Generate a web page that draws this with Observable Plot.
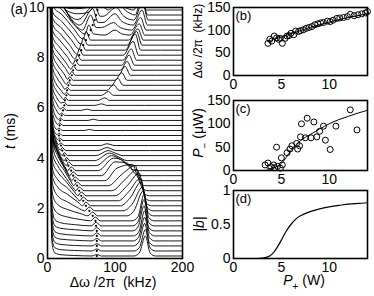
<!DOCTYPE html>
<html><head><meta charset="utf-8">
<script src="https://cdn.jsdelivr.net/npm/d3@7"></script>
<script src="https://cdn.jsdelivr.net/npm/@observablehq/plot@0.6"></script>
<style>
body{margin:0;background:#fff;}
#chart{position:relative;width:374px;height:296px;overflow:hidden;font-family:"Liberation Sans",Arial,sans-serif;color:#000;background:#fff;}
.panel{position:absolute;}
.lbl{position:absolute;font-size:14px;white-space:nowrap;line-height:1;}
.rot{transform:translate(-50%,-50%) rotate(-90deg);}
.ctr{transform:translate(-50%,-50%);}
.sb{font-size:10px;position:relative;top:5px;}
</style></head><body><div id="chart"></div>
<script>
// ---------- panel (a): waterfall spectra ----------
const traceT = [0.1,0.3,0.5,0.7,0.9,1.1,1.3,1.5,1.7,1.9,2.1,2.3,2.5,2.7,2.9,3.1,3.3,3.5,3.7,3.9,
  4.1,4.3,4.5,4.7,4.9,5.1,5.3,5.5,5.7,5.9,6.1,6.3,6.5,6.7,6.9,7.1,7.3,7.5,7.7,7.9,
  8.1,8.3,8.5,8.7,8.9,9.1,9.3,9.5,9.7,9.9];
// spectra: [frequency kHz, height above baseline in ms]
const spectra = [
 [[4,12],[6,0.8],[8,0.3],[11,0.12],[20,0.05],[40,0.02],[66,0],[73,0.06],[80,0],[128,0],[136,0.12],[145,0.8],[152,0.12],[160,0],[200,0]],
 [[4,12],[6,0.8],[8,0.3],[11,0.13],[20,0.05],[40,0.02],[66,0],[73,0.08],[80,0],[128,0],[136,0.13],[145,0.85],[152,0.12],[160,0],[200,0]],
 [[4,12],[6,0.9],[8,0.32],[11,0.14],[20,0.06],[40,0.02],[66,0],[73,0.09],[80,0],[127,0],[135,0.14],[144,0.9],[151,0.13],[159,0],[200,0]],
 [[4,12],[6,0.9],[8,0.35],[11,0.15],[20,0.07],[40,0.03],[66,0],[73,0.1],[80,0],[127,0],[135,0.15],[144,0.95],[151,0.13],[159,0],[200,0]],
 [[4,12],[6,1.0],[8,0.38],[11,0.17],[20,0.08],[40,0.03],[66,0],[73,0.12],[80,0],[127,0],[135,0.15],[144,1.0],[151,0.13],[159,0],[200,0]],
 [[4,12],[6,1.0],[8,0.42],[11,0.2],[20,0.1],[40,0.05],[66,0],[73,0.13],[80,0],[126,0],[134,0.15],[143,1.0],[150,0.13],[158,0],[200,0]],
 [[4,12],[6,1.1],[8,0.5],[11,0.25],[20,0.12],[40,0.05],[65,0],[72,0.15],[79,0],[126,0],[134,0.15],[143,1.05],[150,0.13],[158,0],[200,0]],
 [[4,12],[6,1.2],[8,0.6],[15,0.3],[30,0.15],[50,0.05],[64,0],[71,0.15],[78,0],[125,0],[134,0.16],[143,1.05],[150,0.13],[158,0],[200,0]],
 [[4,12],[6,1.4],[8,0.8],[15,0.45],[30,0.25],[50,0.08],[60,0],[67,0.15],[74,0],[118,0],[128,0.2],[142,1.0],[149,0.13],[157,0],[200,0]],
 [[4,12],[6,1.6],[8,1.0],[15,0.6],[30,0.35],[45,0.12],[55,0],[62,0.15],[70,0],[112,0],[125,0.25],[141,0.95],[148,0.12],[156,0],[200,0]],
 [[4,12],[6,1.8],[8,1.1],[15,0.75],[30,0.45],[45,0.15],[52,0],[57,0.15],[64,0],[108,0],[122,0.3],[139,0.95],[146,0.12],[154,0],[200,0]],
 [[4,12],[6,1.8],[8,1.2],[15,0.85],[30,0.5],[42,0.15],[48,0],[53,0.15],[60,0],[105,0],[120,0.35],[138,0.9],[145,0.1],[153,0],[200,0]],
 [[4,12],[6,2.0],[8,1.3],[15,0.95],[28,0.55],[40,0.15],[45,0],[50,0.15],[57,0],[100,0],[118,0.4],[136,0.9],[143,0.1],[151,0],[200,0]],
 [[4,12],[6,2.2],[8,1.4],[15,1.0],[25,0.6],[37,0.15],[42,0],[47,0.15],[54,0],[95,0],[115,0.45],[133,0.85],[140,0.1],[149,0],[200,0]],
 [[4,12],[6,2.3],[8,1.5],[15,1.0],[25,0.6],[35,0.15],[39,0],[44,0.15],[51,0],[90,0],[110,0.45],[130,0.8],[137,0.1],[146,0],[200,0]],
 [[4,12],[6,2.3],[8,1.5],[15,1.0],[25,0.5],[33,0.12],[36,0],[41,0.15],[48,0],[85,0],[103,0.5],[126,0.65],[135,0.08],[144,0],[200,0]],
 [[4,12],[6,2.3],[8,1.4],[15,0.9],[22,0.5],[30,0.12],[33,0],[38,0.15],[45,0],[80,0],[100,0.55],[118,0.5],[131,0.05],[140,0],[200,0]],
 [[4,12],[6,2.2],[8,1.3],[14,0.8],[20,0.45],[27,0.1],[30,0],[35,0.15],[42,0],[75,0],[98,0.5],[112,0.4],[127,0.03],[136,0],[200,0]],
 [[4,12],[6,2.0],[8,1.2],[13,0.7],[19,0.35],[25,0.08],[28,0],[31,0.15],[38,0],[72,0],[95,0.4],[108,0.25],[122,0],[200,0]],
 [[4,12],[6,1.8],[8,1.0],[12,0.6],[17,0.3],[22,0.06],[25,0],[28,0.12],[33,0],[70,0],[92,0.3],[105,0.15],[118,0],[200,0]],
 [[4,12],[6,1.6],[8,0.9],[12,0.5],[16,0.22],[20,0.04],[22,0],[25,0.12],[30,0],[72,0],[90,0.2],[100,0.1],[112,0],[200,0]],
 [[4,12],[6,1.4],[8,0.8],[12,0.4],[16,0.12],[19,0.02],[22,0.12],[27,0],[75,0],[88,0.12],[102,0],[200,0]],
 [[4,12],[6,1.2],[8,0.6],[12,0.25],[16,0.04],[20,0.1],[25,0],[78,0],[88,0.07],[100,0],[200,0]],
 [[4,12],[6,1.0],[8,0.5],[12,0.15],[15,0.04],[18,0.1],[23,0],[200,0]],
 [[4,12],[6,0.9],[8,0.4],[11,0.12],[14,0.04],[17,0.1],[22,0],[200,0]],
 [[4,12],[6,0.9],[8,0.4],[11,0.12],[14,0.04],[17,0.1],[22,0],[55,0],[62,0.04],[70,0],[200,0]],
 [[4,12],[6,0.9],[8,0.45],[12,0.14],[15,0.04],[18,0.1],[23,0],[200,0]],
 [[4,12],[6,1.0],[8,0.5],[12,0.18],[16,0.04],[19,0.1],[24,0],[60,0],[68,0.05],[76,0],[200,0]],
 [[4,12],[6,1.0],[8,0.55],[13,0.22],[18,0.04],[21,0.1],[26,0],[200,0]],
 [[4,12],[6,1.1],[8,0.6],[13,0.3],[19,0.06],[23,0.12],[28,0],[50,0],[58,0.05],[66,0],[200,0]],
 [[4,12],[6,1.1],[8,0.65],[13,0.35],[20,0.1],[25,0.12],[30,0],[70,0],[80,0.06],[88,0],[200,0]],
 [[4,12],[6,1.2],[8,0.7],[13,0.4],[20,0.15],[24,0.03],[26,0.12],[31,0],[75,0],[85,0.1],[92,0],[200,0]],
 [[4,12],[6,1.3],[8,0.8],[13,0.45],[20,0.2],[25,0.04],[28,0.12],[33,0],[80,0],[90,0.15],[98,0],[200,0]],
 [[4,12],[6,1.4],[8,0.85],[14,0.5],[21,0.22],[26,0.04],[29,0.12],[34,0],[88,0],[98,0.22],[106,0],[200,0]],
 [[4,12],[6,1.5],[8,0.9],[15,0.55],[22,0.25],[28,0.04],[31,0.14],[36,0],[95,0],[104,0.28],[112,0],[200,0]],
 [[4,12],[6,1.6],[8,1.0],[15,0.6],[24,0.28],[30,0.04],[33,0.15],[38,0],[100,0],[110,0.3],[118,0],[200,0]],
 [[4,12],[6,1.7],[8,1.0],[16,0.65],[26,0.3],[33,0.04],[36,0.16],[41,0],[105,0],[115,0.35],[123,0],[200,0]],
 [[4,12],[6,1.8],[8,1.05],[16,0.7],[27,0.32],[35,0.04],[38,0.18],[44,0],[108,0],[118,0.35],[126,0],[200,0]],
 [[4,12],[6,1.8],[8,1.1],[17,0.75],[29,0.35],[38,0.04],[41,0.2],[47,0],[110,0],[121,0.4],[129,0],[200,0]],
 [[4,12],[6,1.9],[8,1.15],[18,0.8],[31,0.38],[41,0.04],[44,0.22],[50,0],[112,0],[124,0.45],[132,0],[200,0]],
 [[4,12],[6,2.0],[8,1.2],[19,0.85],[33,0.4],[44,0.04],[47,0.25],[53,0],[112,0],[127,0.55],[135,0],[200,0]],
 [[4,12],[6,2.1],[8,1.25],[20,0.9],[35,0.42],[47,0.04],[50,0.28],[57,0],[115,0],[130,0.65],[138,0],[200,0]],
 [[4,12],[6,2.2],[8,1.3],[21,0.95],[37,0.45],[50,0.04],[53,0.3],[60,0],[118,0],[132,0.55],[140,0],[200,0]],
 [[4,12],[6,2.3],[8,1.35],[22,1.0],[39,0.45],[53,0.04],[57,0.35],[64,0],[120,0],[134,0.45],[142,0],[200,0]],
 [[4,12],[6,2.4],[8,1.4],[22,1.0],[40,0.4],[56,0.04],[61,0.4],[68,0.05],[85,0],[100,0.2],[110,0.05],[122,0],[136,0.45],[144,0],[200,0]],
 [[4,12],[6,2.4],[8,1.4],[22,1.0],[38,0.3],[52,0],[64,0.6],[72,0.1],[80,0.1],[98,0.3],[108,0.1],[125,0],[138,0.5],[146,0],[200,0]],
 [[4,12],[6,2.4],[10,1.3],[20,0.9],[35,0.25],[48,0],[67,0.65],[75,0.1],[82,0.1],[100,0.45],[110,0.15],[127,0],[140,0.6],[148,0],[200,0]],
 [[4,12],[6,2.4],[10,1.2],[20,0.7],[32,0.2],[45,0.02],[70,0.6],[78,0.15],[82,0.15],[102,0.5],[113,0.15],[128,0],[141,0.7],[149,0],[200,0]],
 [[4,12],[6,1.8],[10,0.8],[20,0.4],[30,0.15],[45,0.05],[60,0.1],[72,0.4],[78,0.3],[83,0.3],[90,0.2],[104,0.5],[115,0.2],[130,0],[140,0.8],[148,0],[200,0]],
 [[4,12],[6,1.4],[10,0.5],[20,0.15],[40,0.05],[60,0.1],[74,0.4],[80,0.2],[85,0.2],[95,0.1],[104,0.3],[115,0.1],[128,0],[137,0.6],[146,0],[200,0]]
];
const dotF = [73,73,73,73,73,73,72,71,67,62,57,53,50,47,44,41,38,35,31,28,25,22,20,18,17,17,18,19,21,23,25,26,
  28,29,31,33,36,38,41,44,47,50,53,57,61,64,67,70,72,74];
const xTicksA = [0,100,200];
const yTicksA = [0,2,4,6,8,10];

// ---------- panel (b) ----------
const bP = [3.6,3.8,4.0,4.25,4.5,4.7,4.9,5.1,5.4,5.6,5.8,6.0,6.3,6.5,6.8,7.0,7.3,7.6,7.9,8.2,8.5,8.8,9.1,9.4,9.8,10.1,10.4,10.8,11.1,11.5,11.9,12.2,12.6,13.0,13.4,13.8,14.0];
const bV = [71,80,76,87,83,80,82,71,82,87,88,93,90,98,97,99,101,104,106,108,112,114,116,117,120,119,122,126,127,128,130,135,132,134,136,138,141];
const bFitP = [3.6,4,5,6,7,8,9,10,11,12,13,14];
const bFitV = [75,78,85,92,99,106,112,118,123,128,132,136];
// ---------- panel (c) ----------
const cP = [3.3,3.6,3.9,4.2,4.3,4.6,4.9,5.1,4.5,5.0,5.6,5.9,6.1,6.6,6.7,6.9,7.0,7.1,7.5,7.7,8.1,8.4,8.7,9.0,9.4,9.6,10.1,10.7,12.2,12.9];
const cV = [12,16,8,12,6,9,5,12,50,27,38,46,53,58,46,53,72,100,70,112,70,104,72,84,95,65,45,95,130,87];
const cFitP = [3.5,4.4,5.0,5.5,6.0,6.5,7.0,7.5,8,9,10,11,12,13,14];
const cFitV = [3,7,15,28,43,55,64,71,77,89,100,109,116,123,129];
// ---------- panel (d) ----------
const dP = [2.5,3.0,3.5,4.0,4.5,5.0,5.5,6.0,6.5,7,8,9,10,11,12,13,14];
const dV = [0,0.005,0.02,0.06,0.15,0.27,0.40,0.50,0.58,0.63,0.69,0.73,0.76,0.78,0.80,0.81,0.82];
const xTicksR = [0,5,10];

const font = {fontFamily:'"Liberation Sans", Arial, sans-serif', fontSize:"14px", background:"transparent", overflow:"visible"};

const rows = spectra.flatMap((k,i)=>k.map(([f,h])=>({i, f, y: traceT[i]+h})));
const dots = traceT.map((t,i)=>({t, f: dotF[i]}));

const chart = document.getElementById("chart");
function place(svg, left, top){
  const d = document.createElement("div");
  d.className = "panel"; d.style.left = left+"px"; d.style.top = top+"px";
  d.appendChild(svg); chart.appendChild(d);
}

place(Plot.plot({
  width:188, height:296, marginLeft:47, marginRight:6, marginTop:7, marginBottom:38,
  style:font,
  x:{domain:[0,200], ticks:xTicksA, tickSize:0, tickPadding:4, label:null},
  y:{domain:[0,10], ticks:yTicksA, tickSize:0, tickPadding:3, label:null},
  marks:[
    Plot.line(rows,{x:"f", y:"y", z:"i", curve:"monotone-x", stroke:"black", strokeWidth:0.9, clip:true}),
    Plot.dot(dots,{x:"f", y:"t", r:1.1, fill:"black", stroke:null}),
    Plot.frame({strokeWidth:1.6})
  ]
}), 0, 0);

function rightPanel(h, mt, mb, ydom, yt, marks, letter, fmt){
  return Plot.plot({
    width:186, height:h, marginLeft:45, marginRight:7, marginTop:mt, marginBottom:mb,
    style:font,
    x:{domain:[0,14], ticks:xTicksR, tickSize:0, tickPadding:4, label:null},
    y:{domain:ydom, ticks:yt, tickSize:0, tickPadding:3, label:null, tickFormat: fmt},
    marks:[...marks,
      Plot.frame({strokeWidth:1.6}),
      Plot.text([letter],{frameAnchor:"top-left", text:d=>d, dx:2, dy:3, lineAnchor:"top", textAnchor:"start", fontSize:13})
    ]
  });
}
const bPts = bP.map((p,i)=>({p, v:bV[i]}));
const bFit = bFitP.map((p,i)=>({p, v:bFitV[i]}));
const cPts = cP.map((p,i)=>({p, v:cV[i]}));
const cFit = cFitP.map((p,i)=>({p, v:cFitV[i]}));
const dCur = dP.map((p,i)=>({p, v:dV[i]}));

place(rightPanel(95, 7, 20, [0,150], [0,50,100,150], [
  Plot.line(bFit,{x:"p", y:"v", curve:"natural", stroke:"black", strokeWidth:1}),
  Plot.dot(bPts,{x:"p", y:"v", r:3, stroke:"black", strokeWidth:1, fill:"none"})
], "(b)", d=>String(d)), 188, 0);

place(rightPanel(95, 5, 20, [0,150], [0,50,100,150], [
  Plot.line(cFit,{x:"p", y:"v", curve:"natural", stroke:"black", strokeWidth:1}),
  Plot.dot(cPts,{x:"p", y:"v", r:3, stroke:"black", strokeWidth:1, fill:"none"})
], "(c)", d=>String(d)), 188, 95);

place(rightPanel(111, 5, 38, [0,1], [0,0.5,1], [
  Plot.line(dCur,{x:"p", y:"v", curve:"natural", stroke:"black", strokeWidth:1.2})
], "(d)", d=>String(d)), 188, 185);

// text labels
function lbl(html, x, y, cls, size){
  const d = document.createElement("div");
  d.className = "lbl " + cls; d.style.left = x+"px"; d.style.top = y+"px";
  if (size) d.style.fontSize = size + "px";
  d.innerHTML = html; chart.appendChild(d);
}
lbl("(a)", 19, 9, "ctr");
lbl("<i>t</i> (ms)", 10, 131, "rot");
lbl("Δω /2π&nbsp; (kHz)", 113, 282, "ctr");
lbl("Δω /2π&nbsp; (kHz)", 198, 41, "rot", 12);
lbl("<i>P</i><span class='sb'>−</span> (μW)", 198, 133, "rot");
lbl("|<i>b</i>|", 199, 224, "rot");
lbl("<i>P</i><span class='sb'>+</span> (W)", 304, 280, "ctr");
</script></body></html>
